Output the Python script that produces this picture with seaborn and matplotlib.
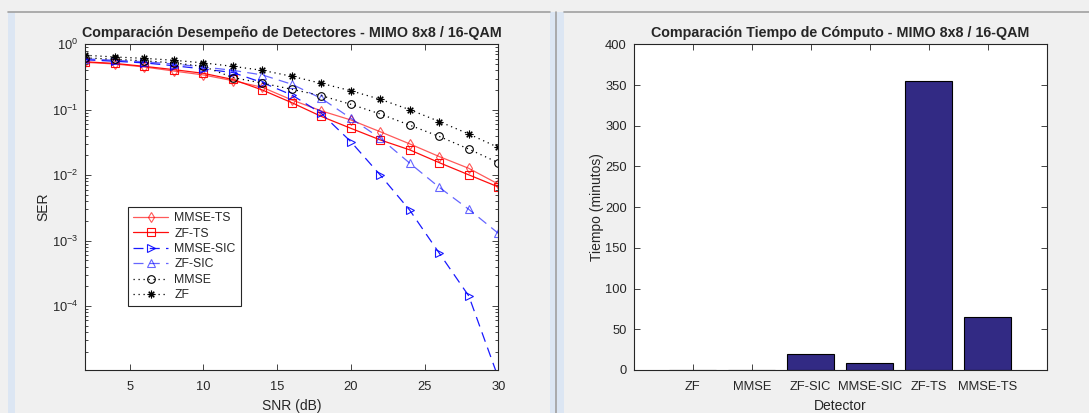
import numpy as np
import pandas as pd
import matplotlib
matplotlib.use('Agg')
import matplotlib.pyplot as plt
from matplotlib.lines import Line2D
from matplotlib.patches import Rectangle
import seaborn as sns

# SER curves
snr = [2, 4, 6, 8, 10, 12, 14, 16, 18, 20, 22, 24, 26, 28, 30]
ser_mmse_ts = [0.53, 0.50, 0.45, 0.39, 0.34, 0.278, 0.22, 0.141, 0.096, 0.0697, 0.046, 0.030, 0.0192, 0.0127, 0.0073]
ser_zf_ts = [0.54, 0.51, 0.46, 0.41, 0.36, 0.29, 0.20, 0.128, 0.079, 0.052, 0.0345, 0.0243, 0.0155, 0.0101, 0.0066]
ser_mmse_sic = [0.58, 0.55, 0.52, 0.47, 0.42, 0.37, 0.26, 0.168, 0.088, 0.0325, 0.0100, 0.0029, 0.00064, 0.000142, 0.000008]
ser_zf_sic = [0.60, 0.57, 0.54, 0.50, 0.45, 0.40, 0.34, 0.245, 0.149, 0.074, 0.0366, 0.0152, 0.0065, 0.0030, 0.00129]
ser_mmse = [0.62, 0.59, 0.56, 0.52, 0.46, 0.31, 0.255, 0.205, 0.164, 0.121, 0.086, 0.058, 0.039, 0.025, 0.0155]
ser_zf = [0.68, 0.64, 0.61, 0.57, 0.52, 0.46, 0.40, 0.324, 0.253, 0.195, 0.144, 0.100, 0.066, 0.0425, 0.0265]

# computing time per detector (minutes)
detectors = ['ZF', 'MMSE', 'ZF-SIC', 'MMSE-SIC', 'ZF-TS', 'MMSE-TS']
times = [0.15, 0.1, 19.5, 9.2, 354.5, 64.5]

sns.set_style('ticks')
plt.rcParams['font.family'] = ['Liberation Sans', 'DejaVu Sans']
plt.rcParams['mathtext.fontset'] = 'custom'
plt.rcParams['mathtext.rm'] = 'Liberation Sans'
plt.rcParams['mathtext.it'] = 'Liberation Sans'

TXT = '#262626'
W, H = 1089, 413
fig = plt.figure(figsize=(W / 100, H / 100), dpi=100, facecolor='#f0f0f0')


def fx(px):
    return px / W


def fy(py):
    return 1 - py / H


# window chrome
fig.add_artist(Rectangle((fx(8), 0), fx(7), fy(12), transform=fig.transFigure, color='#dce6f3', lw=0))
fig.add_artist(Rectangle((fx(550), 0), fx(14), fy(12), transform=fig.transFigure, color='#dce6f3', lw=0))
fig.add_artist(Line2D([fx(555.8), fx(555.8)], [0, fy(12)], transform=fig.transFigure, color='#a0a0a0', lw=1.2))
fig.add_artist(Line2D([fx(8), fx(550)], [fy(12.3), fy(12.3)], transform=fig.transFigure, color='#a0a0a0', lw=1.2))
fig.add_artist(Line2D([fx(564), 1], [fy(12.3), fy(12.3)], transform=fig.transFigure, color='#a0a0a0', lw=1.2))

ax1 = fig.add_axes([fx(85.4), fy(370), fx(498.3 - 85.4), fy(44.3) - fy(370)])
ax2 = fig.add_axes([fx(633.8), fy(370), fx(1046.6 - 633.8), fy(44.3) - fy(370)])

series = [
    ('MMSE-TS', ser_mmse_ts, (1, 0, 0, 0.65), 'd', '-'),
    ('ZF-TS', ser_zf_ts, (1, 0, 0, 0.95), 's', '-'),
    ('MMSE-SIC', ser_mmse_sic, (0, 0, 1, 0.9), '>', (0, (8, 5))),
    ('ZF-SIC', ser_zf_sic, (0, 0, 1, 0.6), '^', (0, (8, 5))),
    ('MMSE', ser_mmse, (0, 0, 0, 1), 'o', (0, (1, 3))),
    ('ZF', ser_zf, (0, 0, 0, 1), (8, 2, 0), (0, (1, 3))),
]
for name, vals, col, mk, ls in series:
    sns.lineplot(x=snr, y=vals, ax=ax1, color=col, marker=mk, linestyle=ls,
                 linewidth=0.9, markersize=5.5, markerfacecolor='none',
                 markeredgecolor=col, markeredgewidth=0.8, label=name)

ax1.set_yscale('log')
ax1.set_xlim(2, 30)
ax1.set_ylim(1.05e-5, 1)
ax1.set_xticks([5, 10, 15, 20, 25, 30])
ax1.set_yticks([1e-4, 1e-3, 1e-2, 1e-1, 1])
ax1.set_title('Comparación Desempeño de Detectores - MIMO 8x8 / 16-QAM',
              fontsize=10.3, fontweight='bold', pad=5)
ax1.set_xlabel('SNR (dB)', fontsize=10, color=TXT, labelpad=4)
ax1.set_ylabel('SER', fontsize=10, color=TXT, labelpad=1)
leg = ax1.legend(loc='lower left', bbox_to_anchor=(0.103, 0.196), borderaxespad=0,
                 fontsize=8.8, handlelength=2.9, fancybox=False, framealpha=1,
                 edgecolor='#262626', labelspacing=0.28, borderpad=0.4,
                 handletextpad=0.5)
leg.get_frame().set_linewidth(0.8)

sns.barplot(x=detectors, y=times, ax=ax2, color='#322a84', saturation=1,
            edgecolor='black', linewidth=0.8, width=0.8)
ax2.set_xlim(-1, 6)
ax2.set_ylim(0, 400)
ax2.set_yticks(range(0, 401, 50))
ax2.set_title('Comparación Tiempo de Cómputo - MIMO 8x8 / 16-QAM',
              fontsize=10.3, fontweight='bold', pad=5)
ax2.set_xlabel('Detector', fontsize=10, color=TXT, labelpad=4)
ax2.set_ylabel('Tiempo (minutos)', fontsize=10, color=TXT, labelpad=1)

for ax in (ax1, ax2):
    ax.set_facecolor('white')
    for sp in ax.spines.values():
        sp.set_visible(True)
        sp.set_color('#262626')
        sp.set_linewidth(0.8)
    ax.tick_params(which='both', direction='in', top=True, right=True,
                   labelsize=9.3, labelcolor=TXT, color='#262626', width=0.6)
    ax.tick_params(which='major', length=4, pad=5)
    ax.tick_params(axis='x', which='major', pad=8)
    ax.tick_params(which='minor', length=2.5)
ax2.tick_params(axis='x', which='both', length=4)

fig.savefig('out.png', dpi=100, facecolor=fig.get_facecolor())
